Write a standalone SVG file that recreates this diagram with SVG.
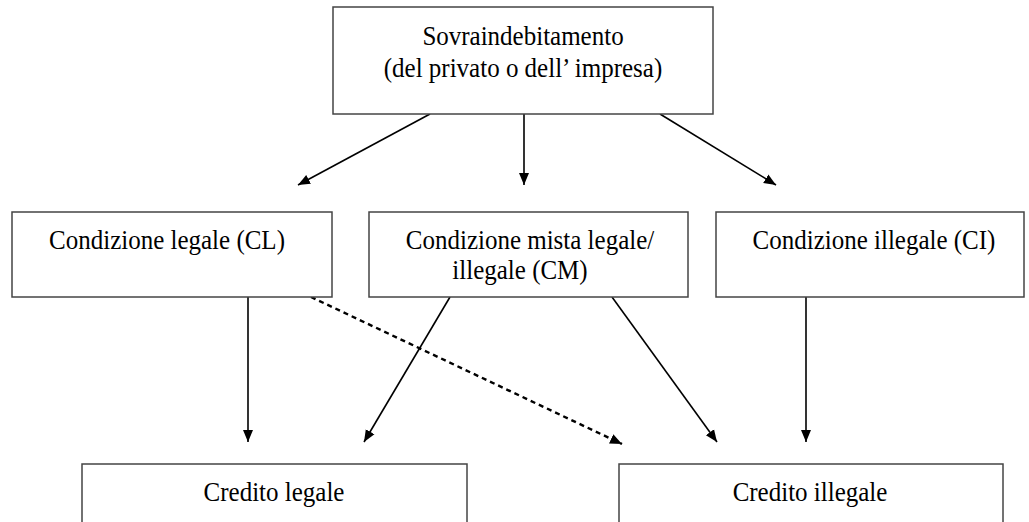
<svg xmlns="http://www.w3.org/2000/svg" width="1029" height="522" viewBox="0 0 1029 522">
<defs>
<style>
.box{fill:#fff;stroke:#444;stroke-width:1.5}
.t{font-family:"Liberation Serif","Times New Roman",serif;font-size:25px;fill:#000;text-anchor:middle}
.c{stroke:#000;stroke-width:1.6;fill:none}
.d{stroke-dasharray:5 4;stroke-width:2.4}
</style>
<marker id="ah" markerWidth="14" markerHeight="12" refX="12" refY="6" orient="auto" markerUnits="userSpaceOnUse">
<path d="M0,1 L12,6 L0,11 z" fill="#000"/>
</marker>
</defs>
<rect width="1029" height="522" fill="#fff"/>
<g id="connectors">
<line class="c" x1="430" y1="114" x2="298" y2="185" marker-end="url(#ah)"/>
<line class="c" x1="524" y1="114" x2="524" y2="185" marker-end="url(#ah)"/>
<line class="c" x1="660" y1="114" x2="776" y2="185" marker-end="url(#ah)"/>
<line class="c" x1="248" y1="297" x2="248" y2="442" marker-end="url(#ah)"/>
<line class="c" x1="450" y1="297" x2="364" y2="442" marker-end="url(#ah)"/>
<line class="c d" x1="311" y1="297" x2="622" y2="444" marker-end="url(#ah)"/>
<line class="c" x1="612" y1="297" x2="717" y2="442" marker-end="url(#ah)"/>
<line class="c" x1="806" y1="297" x2="806" y2="442" marker-end="url(#ah)"/>
</g>
<g id="sovraindebitamento">
<rect class="box" x="333" y="7" width="380" height="107"/>
<text class="t" transform="translate(523,45) scale(1,1.1)">Sovraindebitamento</text>
<text class="t" transform="translate(523,77) scale(1,1.1)">(del privato o dell’ impresa)</text>
</g>
<g id="cl">
<rect class="box" x="12" y="212" width="320" height="85"/>
<text class="t" transform="translate(167,249) scale(1,1.1)">Condizione legale (CL)</text>
</g>
<g id="cm">
<rect class="box" x="369" y="212" width="319" height="85"/>
<text class="t" transform="translate(530,249) scale(1,1.1)">Condizione mista legale/</text>
<text class="t" transform="translate(520,279) scale(1,1.1)">illegale (CM)</text>
</g>
<g id="ci">
<rect class="box" x="716" y="212" width="308" height="85"/>
<text class="t" transform="translate(874,249) scale(1,1.1)">Condizione illegale (CI)</text>
</g>
<g id="credito-legale">
<rect class="box" x="82" y="464" width="385" height="70"/>
<text class="t" transform="translate(274,501) scale(1,1.1)">Credito legale</text>
</g>
<g id="credito-illegale">
<rect class="box" x="619" y="464" width="384" height="70"/>
<text class="t" transform="translate(810,501) scale(1,1.1)">Credito illegale</text>
</g>
</svg>
